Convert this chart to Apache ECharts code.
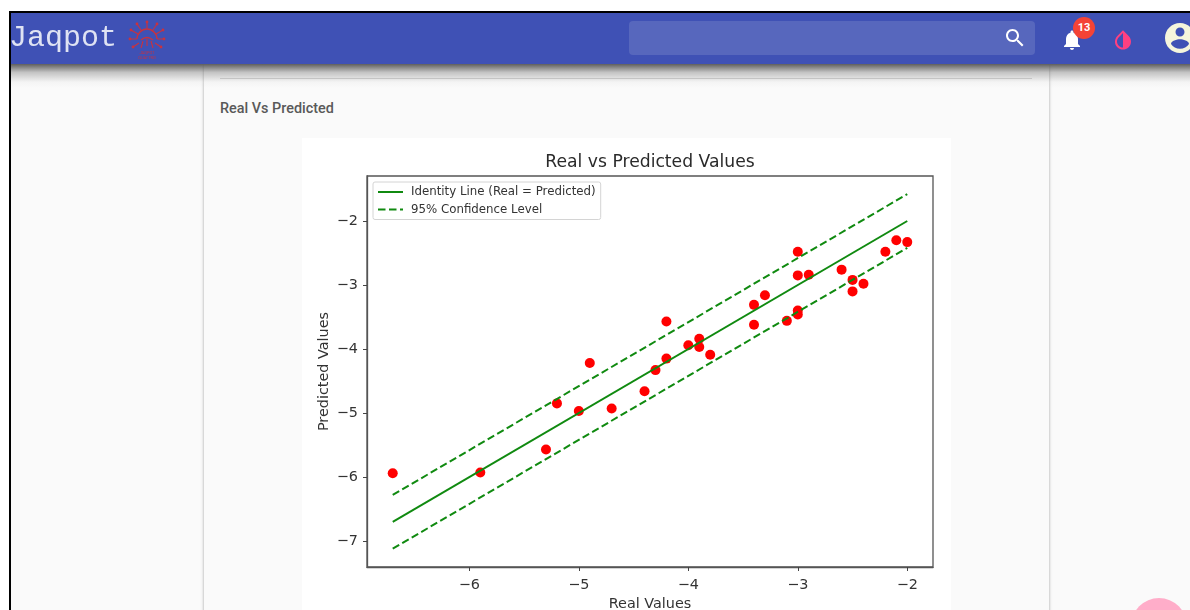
<!DOCTYPE html>
<html><head><meta charset="utf-8">
<style>
html,body{margin:0;padding:0;width:1190px;height:610px;overflow:hidden;background:#fff}
div,svg{position:absolute}
#root{left:0;top:0;width:1190px;height:610px;overflow:hidden;filter:blur(.45px)}
#frame{left:9px;top:11px;width:1181px;height:599px;background:#000}
#page{left:11px;top:13px;width:1179px;height:597px;background:#fafafa;overflow:hidden}
#card{left:193px;top:0;width:845px;height:640px;background:#fafafa;box-shadow:0 0 3px rgba(0,0,0,.35)}
#shade{left:11px;top:64px;width:1179px;height:24px;background:linear-gradient(#5f5f5f,rgba(120,120,120,.42) 35%,rgba(200,200,200,.12) 75%,rgba(250,250,250,0))}
#hr{left:220px;top:78px;width:812px;height:1px;background:#c4c4c4}
#sub{left:220px;top:100px;font:500 14.4px Roboto,sans-serif;color:#595959;white-space:nowrap}
#panel{left:302px;top:138px;width:649px;height:472px;background:#fff}
#bar{left:11px;top:13px;width:1179px;height:51px;background:#3f51b5}
#brand{left:9px;top:21px;font:30px/34px "Liberation Mono",monospace;color:#dfe3f3;white-space:nowrap}
#search{left:629px;top:21px;width:406px;height:34px;border-radius:4px;background:#5767bd}
#badge{left:1073px;top:17px;width:22px;height:22px;border-radius:50%;background:#f44336;color:#fff;font:bold 11px/22px Roboto,sans-serif;text-align:center}
#fab{left:1131px;top:598px;width:56px;height:56px;border-radius:50%;background:#ffadc9}
#chart{left:0;top:0;width:1190px;height:610px}
</style></head><body>
<div id="root">
<div id="frame"></div>
<div id="page"><div id="card"></div></div>
<div id="shade"></div>
<div id="hr"></div>
<div id="sub">Real Vs Predicted</div>
<div id="panel"></div>
<div id="chart"></div>
<div id="bar"></div>
<div id="brand">Jaqpot</div>
<svg style="left:128px;top:19px" width="38" height="42" viewBox="0 0 38 42">
 <g stroke="#c8323f" stroke-width="1.1" fill="none">
  <path d="M9 20a10 10 0 0 1 20 0" stroke-width="1.4"/>
  <path d="M19 10V3M13 11L9 5M25 11L29 5M10 15L3 11M28 15L35 11M9 20H2M29 20H36M11 24L5 28M27 24L33 28M15 22L13 29M23 22L25 29M19 20V27"/>
  <path d="M13 21q6-5 12 0" stroke-width="1.4"/>
 </g>
 <g fill="#c8323f"><circle cx="19" cy="3" r="1.4"/><circle cx="9" cy="5" r="1.4"/><circle cx="29" cy="5" r="1.4"/><circle cx="3" cy="11" r="1.4"/><circle cx="35" cy="11" r="1.4"/><circle cx="2" cy="20" r="1.4"/><circle cx="36" cy="20" r="1.4"/><circle cx="5" cy="28" r="1.4"/><circle cx="33" cy="28" r="1.4"/></g>
 <text x="19" y="35" text-anchor="middle" font-family="Roboto,sans-serif" font-size="4" fill="#c8323f">JAQPOT</text>
 <text x="19" y="40" text-anchor="middle" font-family="Roboto,sans-serif" font-size="4" fill="#c8323f">QUATTRO</text>
</svg>
<div id="search"></div>
<svg style="left:1003px;top:26px" width="24" height="24" viewBox="0 0 24 24"><path fill="#fff" d="M15.5 14h-.79l-.28-.27C15.41 12.59 16 11.11 16 9.5 16 5.91 13.09 3 9.5 3S3 5.91 3 9.5 5.91 16 9.5 16c1.61 0 3.09-.59 4.23-1.57l.27.28v.79l5 4.99L20.49 19l-4.99-5zm-6 0C7.01 14 5 11.99 5 9.5S7.01 5 9.5 5 14 7.01 14 9.5 11.99 14 9.5 14z"/></svg>
<svg style="left:1060px;top:28px" width="24" height="24" viewBox="0 0 24 24"><path fill="#fff" d="M12 22c1.1 0 2-.9 2-2h-4c0 1.1.89 2 2 2zm6-6v-5c0-3.07-1.64-5.64-4.5-6.32V4c0-.83-.67-1.5-1.5-1.5s-1.5.67-1.5 1.5v.68C7.63 5.36 6 7.92 6 11v5l-2 2v1h16v-1l-2-2z"/></svg>
<div id="badge">13</div>
<svg style="left:1111px;top:28px" width="24" height="24" viewBox="0 0 24 24"><path fill="#ff4081" d="M17.66 7.93L12 2.27 6.34 7.93c-3.12 3.12-3.12 8.19 0 11.31C7.9 20.8 9.95 21.58 12 21.58c2.05 0 4.1-.78 5.66-2.34 3.12-3.12 3.12-8.19 0-11.31zM12 19.59c-1.6 0-3.11-.62-4.24-1.76C6.62 16.69 6 15.19 6 13.59s.62-3.11 1.76-4.24L12 5.1v14.49z"/></svg>
<svg style="left:1162px;top:20px" width="36" height="36" viewBox="0 0 24 24"><path fill="#f5f5dc" d="M12 2C6.48 2 2 6.48 2 12s4.48 10 10 10 10-4.48 10-10S17.52 2 12 2zm0 3c1.66 0 3 1.34 3 3s-1.34 3-3 3-3-1.34-3-3 1.34-3 3-3zm0 14.2c-2.5 0-4.71-1.28-6-3.22.03-1.99 4-3.08 6-3.08 1.99 0 5.97 1.09 6 3.08-1.29 1.94-3.5 3.22-6 3.22z"/></svg>
<div id="fab"></div>
</div>
<script src="https://cdn.jsdelivr.net/npm/echarts@6/dist/echarts.min.js"></script>
<script>
const realValues = [-6.7,-5.9,-5.3,-5.2,-5.0,-4.9,-4.7,-4.4,-4.3,-4.2,-4.2,-4.0,-3.9,-3.9,-3.8,-3.4,-3.4,-3.3,-3.1,-3.0,-3.0,-3.0,-3.0,-2.9,-2.6,-2.5,-2.5,-2.4,-2.2,-2.1,-2.0];
const predictedValues = [-5.94,-5.93,-5.57,-4.85,-4.97,-4.22,-4.93,-4.66,-4.33,-3.57,-4.15,-3.94,-3.84,-3.97,-4.09,-3.31,-3.62,-3.16,-3.56,-2.48,-2.85,-3.40,-3.46,-2.84,-2.76,-2.92,-3.10,-2.98,-2.48,-2.30,-2.33];
const lineX = [-6.7,-2.0];
const identityY = [-6.7,-2.0];
const upperY = [-6.28,-1.58];
const lowerY = [-7.12,-2.42];
const xTicks = [-6,-5,-4,-3,-2];
const yTicks = [-7,-6,-5,-4,-3,-2];
const zip = (a,b)=>a.map((v,i)=>[v,b[i]]);
const font = '"DejaVu Sans",sans-serif';
const minus = v=>String(v).replace('-','\u2212');
const GREEN='#108a10';
const DASH=[7.5,3.5];
const chart = echarts.init(document.getElementById('chart'),null,{renderer:'canvas',width:1190,height:610});
const axisCommon = {
  type:'value', splitLine:{show:false},
  axisLine:{show:true,onZero:false,lineStyle:{color:'#555',width:1.3}},
  nameLocation:'middle',
  nameTextStyle:{fontFamily:font,fontSize:14.4,color:'#333'}
};
chart.setOption({
  animation:false,
  backgroundColor:'transparent',
  title:{text:'Real vs Predicted Values',left:645,top:149,textAlign:'center',
    textStyle:{fontFamily:font,fontSize:17.2,fontWeight:'normal',color:'#2a2a2a'}},
  grid:{show:true,left:367,top:176,width:566,height:391,outerBoundsMode:'none',borderColor:'#555',borderWidth:1.3,backgroundColor:'transparent'},
  legend:{left:373,top:182,orient:'vertical',data:['Identity Line (Real = Predicted)','95% Confidence Level'],
    itemWidth:25,itemHeight:14,itemGap:5.5,padding:[4,5,4,4],borderColor:'#d4d4d4',borderWidth:1,borderRadius:2,
    backgroundColor:'#fff',itemStyle:{color:'rgba(0,0,0,0)',opacity:0},
    textStyle:{fontFamily:font,fontSize:11.8,color:'#333',padding:[0,0,0,3]}},
  xAxis:Object.assign({},axisCommon,{min:-6.935,max:-1.765,name:'Real Values',nameGap:29,
    axisTick:{show:true,customValues:xTicks,length:4,lineStyle:{color:'#444'}},
    axisLabel:{customValues:xTicks,formatter:minus,fontFamily:font,fontSize:14.4,color:'#333',margin:11}}),
  yAxis:Object.assign({},axisCommon,{min:-7.406,max:-1.297,name:'Predicted Values',nameGap:36,
    axisTick:{show:true,customValues:yTicks,length:4,lineStyle:{color:'#444'}},
    axisLabel:{customValues:yTicks,formatter:minus,fontFamily:font,fontSize:14.4,color:'#333',margin:9}}),
  series:[
    {name:'Identity Line (Real = Predicted)',type:'line',showSymbol:false,symbol:'none',z:3,data:zip(lineX,identityY),lineStyle:{color:GREEN,width:2},itemStyle:{color:GREEN}},
    {name:'95% Confidence Level',type:'line',showSymbol:false,symbol:'none',z:3,data:zip(lineX,upperY),lineStyle:{color:GREEN,width:2,type:DASH},itemStyle:{color:GREEN}},
    {name:'95% Confidence Level',type:'line',showSymbol:false,symbol:'none',z:3,data:zip(lineX,lowerY),lineStyle:{color:GREEN,width:2,type:DASH},itemStyle:{color:GREEN}},
    {name:'Samples',type:'scatter',symbol:'circle',symbolSize:10,z:2,data:zip(realValues,predictedValues),itemStyle:{color:'#ff0000',opacity:1}}
  ]
});
</script>
</body></html>
